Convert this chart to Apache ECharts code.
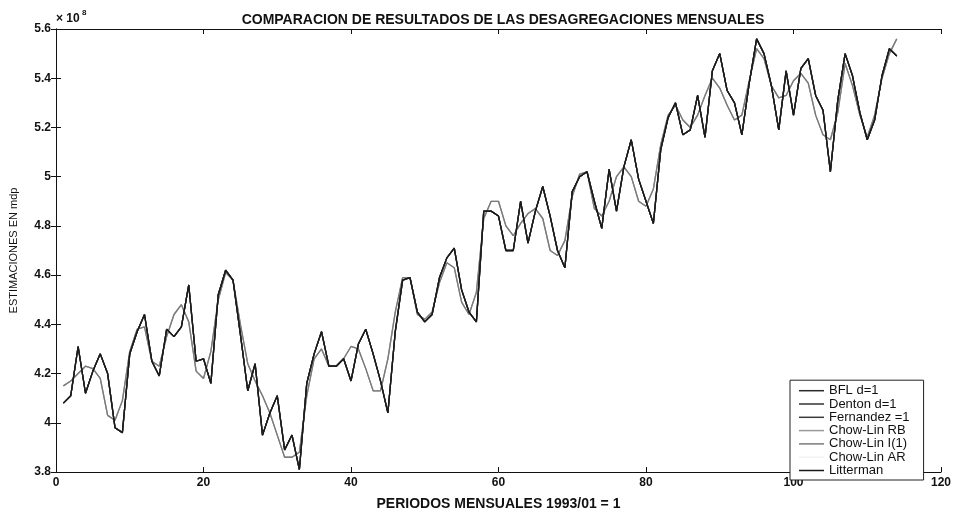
<!DOCTYPE html>
<html>
<head>
<meta charset="utf-8">
<script src="https://cdn.jsdelivr.net/npm/echarts@6/dist/echarts.min.js"></script>
<style>
html,body{margin:0;padding:0;background:#fff;overflow:hidden;}
#chart{width:956px;height:516px;}
</style>
</head>
<body>
<div id="chart"></div>
<script>
// Months 1..114 (1993/01 = 1), values in units of 10^8
const months = [];
for (let i = 1; i <= 114; i++) months.push(i);

const darkEstimate = [
4.08,4.11,4.31,4.12,4.21,4.28,4.20,3.98,3.96,4.28,
4.37,4.44,4.25,4.19,4.38,4.35,4.39,4.56,4.25,4.26,
4.16,4.52,4.62,4.58,4.36,4.13,4.24,3.95,4.04,4.11,
3.89,3.95,3.81,4.16,4.28,4.37,4.23,4.23,4.26,4.17,
4.32,4.38,4.28,4.17,4.04,4.37,4.58,4.59,4.45,4.41,
4.44,4.59,4.67,4.71,4.54,4.45,4.41,4.86,4.86,4.84,
4.70,4.70,4.90,4.73,4.86,4.96,4.84,4.70,4.63,4.94,
5.00,5.02,4.90,4.79,5.03,4.86,5.04,5.15,4.99,4.90,
4.81,5.11,5.24,5.30,5.17,5.19,5.33,5.16,5.43,5.50,
5.35,5.30,5.17,5.38,5.56,5.50,5.37,5.19,5.43,5.25,
5.44,5.48,5.33,5.27,5.02,5.31,5.50,5.41,5.26,5.15,
5.23,5.41,5.52,5.49];

const grayEstimate = [
4.15,4.17,4.20,4.23,4.22,4.18,4.03,4.01,4.09,4.29,
4.38,4.39,4.25,4.23,4.35,4.44,4.48,4.41,4.21,4.18,
4.29,4.50,4.61,4.58,4.40,4.24,4.17,4.11,4.04,3.95,
3.86,3.86,3.88,4.11,4.26,4.30,4.23,4.23,4.26,4.31,
4.30,4.22,4.13,4.13,4.26,4.45,4.59,4.59,4.44,4.42,
4.45,4.57,4.65,4.63,4.49,4.44,4.53,4.83,4.90,4.90,
4.80,4.76,4.81,4.85,4.87,4.83,4.70,4.68,4.74,4.92,
5.01,5.02,4.87,4.84,4.90,5.00,5.04,5.00,4.90,4.88,
4.95,5.13,5.25,5.29,5.23,5.20,5.25,5.33,5.40,5.36,
5.29,5.23,5.25,5.39,5.52,5.48,5.37,5.32,5.33,5.39,
5.42,5.38,5.25,5.17,5.15,5.26,5.46,5.37,5.25,5.16,
5.25,5.40,5.50,5.56];

const seriesNames = ['BFL d=1','Denton d=1','Fernandez =1','Chow-Lin RB','Chow-Lin I(1)','Chow-Lin AR','Litterman'];
const seriesValues = [darkEstimate, darkEstimate, darkEstimate, grayEstimate, grayEstimate, grayEstimate, darkEstimate];
const seriesColors = ['#2a2a2a','#333333','#3a3a3a','#9a9a9a','#7a7a7a','#f2f2f2','#1a1a1a'];
const seriesZ = [5,5,5,3,3,2,6];

const chart = echarts.init(document.getElementById('chart'), null, {renderer:'canvas'});
const font = 'Liberation Sans, Arial, Helvetica, sans-serif';

const series = seriesNames.map((n, k) => ({
  name: n,
  type: 'line',
  symbol: 'none',
  z: seriesZ[k],
  data: months.map((m, i) => [m, seriesValues[k][i]]),
  lineStyle: {color: seriesColors[k], width: 1.3},
  itemStyle: {color: seriesColors[k]},
  animation: false
}));

const axisCommon = {
  axisLine: {show: true, lineStyle: {color: '#111', width: 1}},
  axisTick: {show: true, inside: true, length: 5, lineStyle: {color: '#111'}},
  splitLine: {show: false}
};

chart.setOption({
  animation: false,
  backgroundColor: '#fff',
  title: {
    text: 'COMPARACION DE RESULTADOS DE LAS DESAGREGACIONES MENSUALES',
    left: 498, top: 8, textAlign: 'center',
    textStyle: {fontFamily: font, fontSize: 14, fontWeight: 'bold', color: '#111'}
  },
  grid: {left: 56, right: 15, top: 29, bottom: 32, containLabel: false},
  legend: {
    orient: 'vertical',
    left: 790, bottom: 36,
    data: seriesNames,
    icon: 'rect',
    backgroundColor: '#fff',
    borderColor: '#222', borderWidth: 1,
    padding: [4, 14, 3, 9],
    itemWidth: 25, itemHeight: 1.5, itemGap: 0.3,
    textStyle: {fontFamily: font, fontSize: 13, lineHeight: 12, color: '#111'}
  },
  xAxis: [
    Object.assign({
      type: 'value', min: 0, max: 120, interval: 20, position: 'bottom',
      name: 'PERIODOS MENSUALES 1993/01 = 1', nameLocation: 'middle', nameGap: 25,
      nameTextStyle: {fontFamily: font, fontSize: 14, fontWeight: 'bold', color: '#111'},
      axisLabel: {fontFamily: font, fontSize: 12, fontWeight: 'bold', color: '#111', margin: 5}
    }, axisCommon),
    Object.assign({
      type: 'value', min: 0, max: 120, interval: 20, position: 'top',
      axisLabel: {show: false}
    }, axisCommon)
  ],
  yAxis: [
    Object.assign({
      type: 'value', min: 3.8, max: 5.6, interval: 0.2, position: 'left',
      name: 'ESTIMACIONES EN mdp', nameLocation: 'middle', nameGap: 37, nameRotate: 90,
      nameTextStyle: {fontFamily: font, fontSize: 11, color: '#111'},
      axisLabel: {fontFamily: font, fontSize: 12, fontWeight: 'bold', color: '#111', margin: 5,
        formatter: v => String(Math.round(v * 10) / 10)}
    }, axisCommon),
    Object.assign({
      type: 'value', min: 3.8, max: 5.6, interval: 0.2, position: 'right',
      axisLabel: {show: false}
    }, axisCommon)
  ],
  graphic: [
    {type: 'text', left: 56, top: 13, style: {text: '× 10', font: 'bold 12px ' + font, fill: '#111'}},
    {type: 'text', left: 82, top: 9, style: {text: '8', font: 'bold 8px ' + font, fill: '#111'}}
  ],
  series: series
});
</script>
</body>
</html>
